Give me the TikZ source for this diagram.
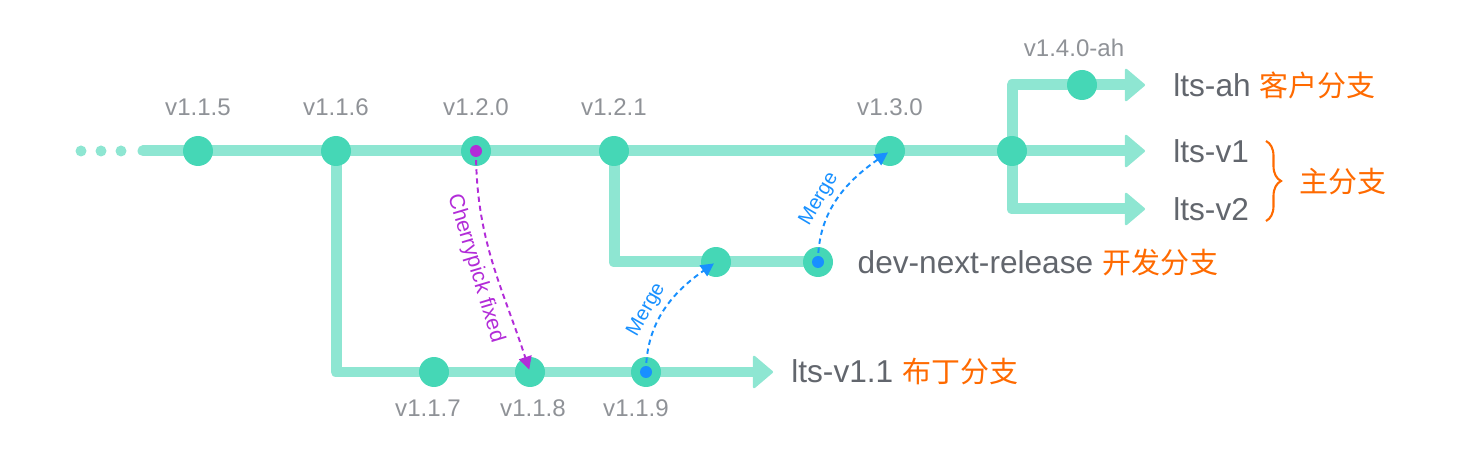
\documentclass[tikz,border=0pt]{standalone}
\usepackage{fontspec}
\setmainfont{Liberation Sans}
\newfontfamily\cjk{Noto Sans CJK SC}
\usetikzlibrary{positioning,arrows.meta,backgrounds,decorations.pathreplacing}
\definecolor{linecol}{HTML}{8EE6D2}
\definecolor{commitcol}{HTML}{45D7B6}
\definecolor{mergecol}{HTML}{1890FF}
\definecolor{pickcol}{HTML}{B22CD8}
\definecolor{zhcol}{HTML}{FF6A00}
\definecolor{namecol}{HTML}{62666D}
\definecolor{vercol}{HTML}{8F9297}
\newcommand\zhpart[1]{{\cjk\fontsize{16.5}{20}\selectfont\color{zhcol}#1}}
\tikzset{
  commit/.style={circle, fill=commitcol, minimum size=0.6cm, inner sep=0pt},
  tailpt/.style={circle, fill=linecol, minimum size=0.22cm, inner sep=0pt},
  srcdot/.style={circle, minimum size=0.24cm, inner sep=0pt},
  branch/.style={draw=linecol, line width=0.22cm, line cap=round, line join=round},
  branchend/.style={branch, -{Triangle[length=0.42cm, width=0.7cm, line width=1.5pt, round]}},
  ver/.style={text=vercol, font=\fontsize{13.7}{16}\selectfont, inner sep=0pt},
  brname/.style={text=namecol, font=\fontsize{18}{21}\selectfont, inner sep=0pt},
  mergeline/.style={draw=mergecol, line width=1.1pt, dash pattern=on 3pt off 2.2pt,
    -{Triangle[length=0.26cm, width=0.26cm]}, shorten >=0.05cm},
  pickline/.style={mergeline, draw=pickcol},
  mergetxt/.style={text=mergecol, font=\fontsize{11.5}{13}\selectfont, inner sep=3pt},
  picktxt/.style={text=pickcol, font=\fontsize{12.2}{14}\selectfont, inner sep=4pt},
}
\begin{document}
\begin{tikzpicture}[x=0.02cm, y=0.02cm]
\useasboundingbox (0,0) rectangle (1470,-462);
% tail of the main branch
\node[tailpt] (t1) at (81,-151) {};
\node[tailpt] (t2) at (101,-151) {};
\node[tailpt] (t3) at (121,-151) {};
\coordinate (mainstart) at (143,-151);
% main branch commits
\node[commit, label={[ver, label distance=0.4cm]90:v1.1.5}] (c115) at (198,-151) {};
\node[commit, label={[ver, label distance=0.4cm]90:v1.1.6}] (c116) at (336,-151) {};
\node[commit, label={[ver, label distance=0.4cm]90:v1.2.0}] (c120) at (476,-151) {};
\node[commit, label={[ver, label distance=0.4cm]90:v1.2.1}] (c121) at (614,-151) {};
\node[commit, label={[ver, label distance=0.4cm]90:v1.3.0}] (c130) at (890,-151) {};
\node[commit] (cfork) at (1012,-151) {};
\node[commit, label={[ver, label distance=0.26cm, xshift=-0.16cm]90:v1.4.0-ah}] (c140) at (1082,-85) {};
\coordinate (endah) at (1145,-85);
\coordinate (endv1) at (1145,-151);
\coordinate (endv2) at (1145,-209);
% lts-v1.1
\node[commit, label={[ver, label distance=0.24cm, xshift=-0.12cm]-90:v1.1.7}] (c117) at (434,-372) {};
\node[commit, label={[ver, label distance=0.24cm, xshift=0.06cm]-90:v1.1.8}] (c118) at (530,-372) {};
\node[commit, label={[ver, label distance=0.24cm, xshift=-0.2cm]-90:v1.1.9}] (c119) at (646,-372) {};
\coordinate (end11) at (773,-372);
% dev-next-release
\node[commit] (cd1) at (716,-262) {};
\node[commit] (cd2) at (818,-262) {};
% branch names
\node[brname, anchor=west, right=0.56cm of endah] (lah) {lts-ah \zhpart{客户分支}};
\node[brname, anchor=west, right=0.56cm of endv1] (lv1) {lts-v1};
\node[brname, anchor=west, right=0.56cm of endv2] (lv2) {lts-v2};
\node[brname, anchor=west, right=0.36cm of end11] (l11) {lts-v1.1 \zhpart{布丁分支}};
\node[brname, anchor=west, right=0.48cm of cd2] (ldev) {dev-next-release \zhpart{开发分支}};
\coordinate (bracetop) at (1266,-141);
\coordinate (bracebot) at (1266,-221);
\draw[zhcol, line width=1.2pt, decorate, decoration={brace, amplitude=0.3cm}]
  (bracetop) -- (bracebot);
\node[brname, anchor=west] (lmain) at (1299,-182) {\zhpart{主分支}};
% branch lines
\begin{scope}[on background layer]
\draw[branch] (mainstart) -- (cfork.center);
\draw[branchend] (cfork.center) -- (endv1);
\draw[branchend] (cfork.center) |- (endah);
\draw[branchend] (cfork.center) |- (endv2);
\draw[branchend] (c116.center) |- (end11);
\draw[branch] (c121.center) |- (cd2.center);
\end{scope}
% merges and cherrypick
\draw[mergeline] (c119.center) to[out=90, in=215]
  node[mergetxt, pos=0.42, sloped, above] {Merge} (cd1.center);
\draw[mergeline] (cd2.center) to[out=90, in=215]
  node[mergetxt, pos=0.42, sloped, above] {Merge} (c130.center);
\draw[pickline] (c120.center) to[out=-90, in=108]
  node[picktxt, pos=0.5, sloped, below] {Cherrypick fixed} (c118.center);
\node[srcdot, fill=mergecol] (s119) at (c119) {};
\node[srcdot, fill=mergecol] (sd2) at (cd2) {};
\node[srcdot, fill=pickcol] (s120) at (c120) {};
\end{tikzpicture}
\end{document}
